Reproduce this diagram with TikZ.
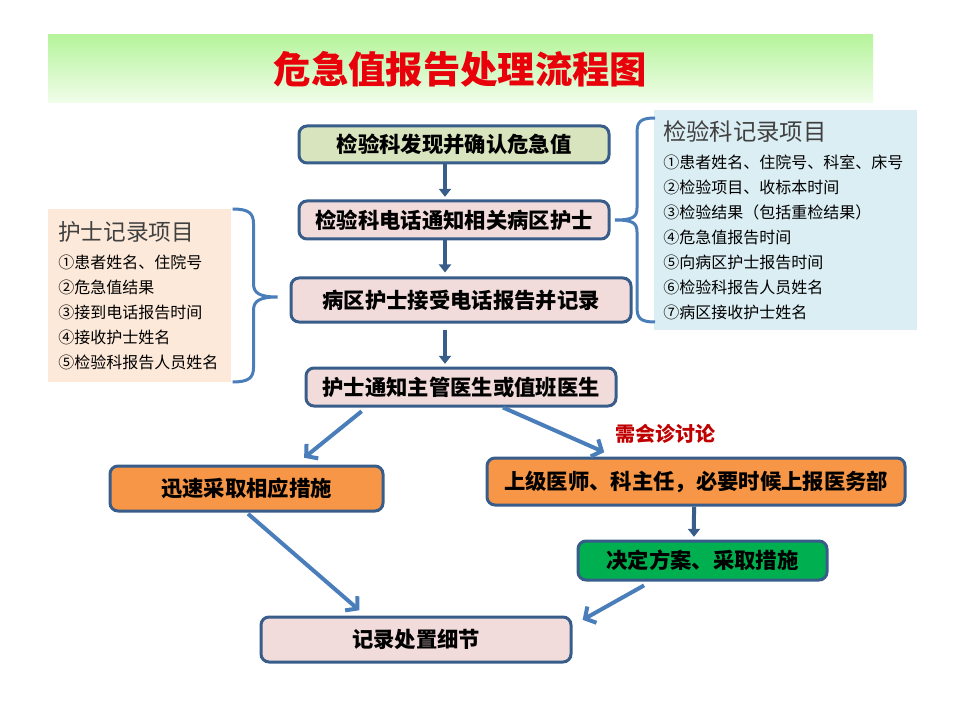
\documentclass[tikz,border=0pt]{standalone}
\usepackage{fontspec}
\setmainfont{Noto Sans CJK SC}
\usetikzlibrary{arrows.meta}
\definecolor{edge}{HTML}{385D8A}
\definecolor{arrowblue}{HTML}{4A7EBB}
\definecolor{greenA}{HTML}{D7E4BD}
\definecolor{pinkA}{HTML}{F2DCDB}
\definecolor{orangeA}{HTML}{F79646}
\definecolor{greenB}{HTML}{00B050}
\definecolor{nurse}{HTML}{FDE9D9}
\definecolor{lab}{HTML}{DBEEF4}
\definecolor{bandtop}{HTML}{B6F49C}
\definecolor{bandbot}{HTML}{F1FDEA}
\definecolor{titlered}{HTML}{E8000B}
\definecolor{labelred}{HTML}{C00000}
\definecolor{listgray}{HTML}{404040}

\begin{document}
\begin{tikzpicture}[x=0.75pt,y=-0.75pt,
    box/.style={draw=edge, line width=2.25pt, rounded corners=6pt, inner sep=0pt,
        font=\bfseries\fontsize{16}{19}\selectfont},
    darr/.style={draw=edge, line width=3pt, -{Triangle[length=6pt,width=9pt]}},
    larr/.style={draw=arrowblue, line width=3pt, -{Straight Barb[length=6pt,width=14pt]}},
    list/.style={align=left, anchor=north west, inner ysep=0pt,
        font=\fontsize{12}{18.75}\selectfont},
    brace/.style={draw=arrowblue, line width=2.25pt}
]
\useasboundingbox (0,0) rectangle (960,720);

% title band
\node (Title) [shade, top color=bandtop, bottom color=bandbot, minimum width=618.75pt, minimum height=51pt,
    text=titlered, font=\bfseries\fontsize{28}{32}\selectfont] at (460.5,69) {危急值报告处理流程图};

% main flow
\node (Find) [box, fill=greenA, minimum width=232.5pt, minimum height=27.75pt] at (454,144.5) {检验科发现并确认危急值};
\node (Call) [box, fill=pinkA, minimum width=232.5pt, minimum height=28.5pt] at (454,220) {检验科电话通知相关病区护士};
\node (Receive) [box, fill=pinkA, minimum width=255pt, minimum height=33pt] at (461,300) {病区护士接受电话报告并记录};
\node (Notify) [box, fill=pinkA, minimum width=232.5pt, minimum height=28.5pt] at (461,387) {护士通知主管医生或值班医生};
\node (Act) [box, fill=orangeA, minimum width=204.75pt, minimum height=33.75pt] at (246.5,488.5) {迅速采取相应措施};
\node (Consult) [box, fill=orangeA, minimum width=313.5pt, minimum height=35.25pt] at (696,481.5) {上级医师、科主任，必要时候上报医务部};
\node (Decide) [box, fill=greenB, minimum width=186.75pt, minimum height=29.25pt] at (702.5,560.5) {决定方案、采取措施};
\node (Record) [box, fill=pinkA, minimum width=232.5pt, minimum height=33.75pt] at (416,639.5) {记录处置细节};
\node (Need) [text=labelred, font=\bfseries\fontsize{15}{18}\selectfont] at (665,434) {需会诊讨论};

% record lists
\node (NurseList) [list, fill=nurse, inner xsep=7.5pt, text width=122.25pt,
    minimum width=137.25pt, minimum height=129.75pt] at (48,209)
    {{\fontsize{17}{20}\selectfont\color{listgray}护士记录项目}\\[2.5pt]
     ①患者姓名、住院号\\
     ②危急值结果\\
     ③接到电话报告时间\\
     ④接收护士姓名\\
     ⑤检验科报告人员姓名};
\node (LabList) [list, fill=lab, inner xsep=6.75pt, text width=183.75pt,
    minimum width=197.25pt, minimum height=165pt] at (654,110)
    {{\fontsize{17.5}{20}\selectfont\color{listgray}检验科记录项目}\\[2.5pt]
     ①患者姓名、住院号、科室、床号\\
     ②检验项目、收标本时间\\
     ③检验结果（包括重检结果）\\
     ④危急值报告时间\\
     ⑤向病区护士报告时间\\
     ⑥检验科报告人员姓名\\
     ⑦病区接收护士姓名};

% braces
\draw[brace] ([xshift=0.75pt]NurseList.north east)
    .. controls +(16,0) and +(0,-11) .. ++(21,15) -- ++(0,60)
    .. controls +(0,9) and +(-18,0) .. ++(24,13)
    .. controls +(-18,0) and +(0,-9) .. ++(-24,13) -- ++(0,57)
    .. controls +(0,11) and +(16,0) .. ++(-21,15);
\draw[brace] ([xshift=0.75pt,yshift=-6pt]LabList.north west)
    .. controls +(-15,0) and +(0,-11) .. ++(-18,15) -- ++(0,75)
    .. controls +(0,9) and +(18,0) .. ++(-22,12)
    .. controls +(18,0) and +(0,-9) .. ++(22,12) -- ++(0,75)
    .. controls +(0,11) and +(-15,0) .. ++(18,15);

% connectors
\draw[darr] ([xshift=-6.75pt]Find.south) -- ([xshift=-6.75pt,yshift=2pt]Call.north);
\draw[darr] ([xshift=-6.75pt]Call.south) -- ([xshift=-12pt,yshift=3pt]Receive.north);
\draw[darr] ([xshift=-12pt,yshift=-4.5pt]Receive.south) -- ([xshift=-12pt,yshift=2pt]Notify.north);
\draw[darr] ([xshift=-1.5pt]Consult.south) -- ([xshift=-6.4pt,yshift=2pt]Decide.north);
\draw[larr, shorten <=4.5pt, shorten >=8pt] ([xshift=-71pt]Notify.south) -- ([xshift=37pt]Act.north);
\draw[larr, shorten <=0pt, shorten >=8pt] ([xshift=31.5pt]Notify.south) -- ([xshift=-61.5pt]Consult.north);
\draw[larr, shorten <=1.5pt, shorten >=6pt] (Act.south) -- ([xshift=-38pt]Record.north);
\draw[larr, shorten <=6pt, shorten >=1pt] ([xshift=-38.6pt]Decide.south) -- ([xshift=6.75pt,yshift=-3.75pt]Record.north east);

\end{tikzpicture}
\end{document}
